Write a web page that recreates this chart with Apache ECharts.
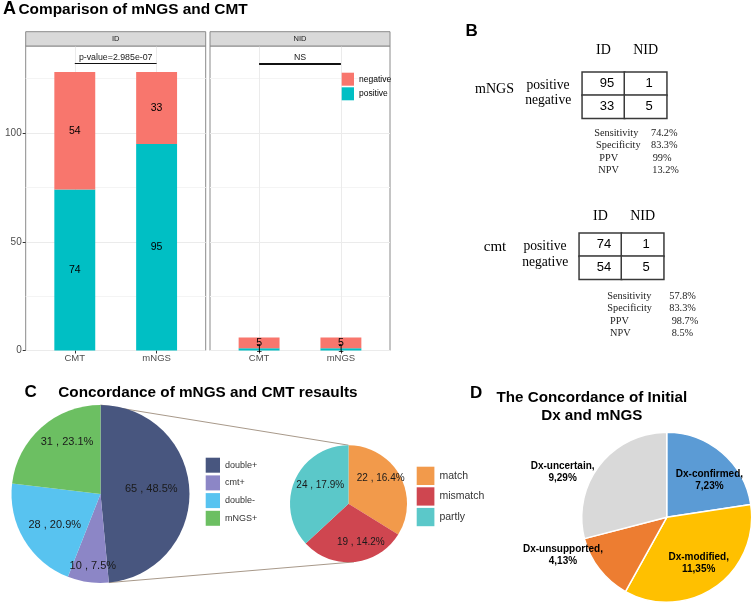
<!DOCTYPE html>
<html><head><meta charset="utf-8">
<script src="https://cdn.jsdelivr.net/npm/echarts@6/dist/echarts.min.js"></script>
<style>html,body{margin:0;padding:0;background:#fff}#c{width:753px;height:605px}</style>
</head><body><div id="c"></div>
<script>
// ---------- DATA ----------
// Panel A
const barCategories = ['CMT', 'mNGS'];
const facetNames = ['ID', 'NID'];
const idPositive = [74, 95];
const idNegative = [54, 33];
const nidPositive = [1, 1];
const nidNegative = [5, 5];
const sigLabels = ['p-value=2.985e-07', 'NS'];
const yTicksA = [0, 50, 100];
const stackNames = ['negative', 'positive'];

// Panel B
const tableCols = ['ID', 'NID'];
const tableRows = ['positive', 'negative'];
const mngsTable = [[95, 1], [33, 5]];
const cmtTable = [[74, 1], [54, 5]];
const statNames = ['Sensitivity', 'Specificity', 'PPV', 'NPV'];
const mngsStats = ['74.2%', '83.3%', '99%', '13.2%'];
const cmtStats = ['57.8%', '83.3%', '98.7%', '8.5%'];

// Panel C
const concordNames = ['double+', 'cmt+', 'double-', 'mNGS+'];
const concordValues = [65, 10, 28, 31];
const concordPct = ['48.5%', '7.5%', '20.9%', '23.1%'];
const detailNames = ['match', 'mismatch', 'partly'];
const detailValues = [22, 19, 24];
const detailPct = ['16.4%', '14.2%', '17.9%'];

// Panel D
const dxNames = ['Dx-confirmed', 'Dx-modified', 'Dx-unsupported', 'Dx-uncertain'];
const dxValues = [7, 11, 4, 9];
const dxPct = ['23%', '35%', '13%', '29%'];

// ---------- STYLE / LAYOUT ----------
const SANS = 'Liberation Sans, Arial, sans-serif';
const SERIF = 'Liberation Serif, Times New Roman, serif';
const colNeg = '#F8766D', colPos = '#00BFC4';
const concordColors = ['#48567F', '#8C86C6', '#58C3F0', '#6CBF62'];
const detailColors = ['#F29A4B', '#CF4650', '#5BC8C9'];
const dxColors = ['#5B9BD5', '#FFC000', '#ED7D31', '#D9D9D9'];
const borderGrey = '#8a8a8a';

const panelA = [{left: 25.7, top: 46, width: 180, height: 304.5}, {left: 210, top: 46, width: 180, height: 304.5}];
const xExpand = 0.6;           // discrete-axis expansion, in category units
const stripH = 14.3;
const yMaxA = 140;
const tblGrids = [{left: 582.3, top: 72.3, width: 84.4, height: 46}, {left: 579.3, top: 233.3, width: 84.4, height: 46}];
const bigPie = {cx: 100.5, cy: 494, r: 89};
const smallPie = {cx: 348.5, cy: 503.7, r: 58.5};
const dPie = {cx: 666.7, cy: 517.3, r: 85};
const bigOff = [[3.3, -2.6], [-1, 25.2], [-5, 6.5], [-1.9, -16.7]];
const smallOff = [[4, -10.2], [9.2, 6.2], [1.3, -5.3]];
const dOff = [[13.1, -2.6], [6, 8.8], [-67.8, 10], [-68.1, -16.8]];

// ---------- BUILD ----------
const totals = idPositive.map((v, i) => v + idNegative[i]);
const sigY = Math.max(...totals) + 4;
function tableData(tbl) { const d = []; tbl.forEach((row, r) => row.forEach((v, c) => d.push([c, r, v]))); return d; }

const graphics = [];
function txt(t, x, y, o) {
  graphics.push({type: 'text', silent: true, z: 10, style: Object.assign({
    text: t, x: x, y: y, fill: '#000', fontFamily: SANS, fontSize: 12,
    align: 'left', verticalAlign: 'middle', textAlign: 'left', textVerticalAlign: 'middle'}, o)});
}
txt('A', 3, 9.5, {fontSize: 18, fontWeight: 'bold'});
txt('Comparison of mNGS and CMT', 18.5, 9.5, {fontSize: 15.4, fontWeight: 'bold'});
txt('B', 465.5, 31, {fontSize: 17, fontWeight: 'bold'});
txt('C', 24.5, 392.7, {fontSize: 17, fontWeight: 'bold'});
txt('Concordance of mNGS and CMT resaults', 58.3, 392.7, {fontSize: 15.3, fontWeight: 'bold'});
txt('D', 470, 393, {fontSize: 17, fontWeight: 'bold'});
txt('The Concordance of Initial', 591.8, 398.3, {fontSize: 15.2, fontWeight: 'bold', align: 'center', textAlign: 'center'});
txt('Dx and mNGS', 591.8, 415.5, {fontSize: 15.2, fontWeight: 'bold', align: 'center', textAlign: 'center'});

panelA.forEach((p, i) => {
  graphics.push({type: 'rect', silent: true, z: 5, shape: {x: p.left, y: p.top - stripH, width: p.width, height: stripH},
    style: {fill: '#D9D9D9', stroke: borderGrey, lineWidth: 1}});
  txt(facetNames[i], p.left + p.width / 2, p.top - stripH / 2, {fontSize: 7.5, fill: '#1a1a1a', align: 'center', textAlign: 'center'});
});

txt('mNGS', 494.5, 89, {fontFamily: SERIF, fontSize: 14, align: 'center', textAlign: 'center'});
txt(tableRows[0], 548, 85, {fontFamily: SERIF, fontSize: 13.6, align: 'center', textAlign: 'center'});
txt(tableRows[1], 548.2, 100, {fontFamily: SERIF, fontSize: 13.6, align: 'center', textAlign: 'center'});
txt('cmt', 495, 247.3, {fontFamily: SERIF, fontSize: 15, align: 'center', textAlign: 'center'});
txt(tableRows[0], 545, 246.7, {fontFamily: SERIF, fontSize: 13.6, align: 'center', textAlign: 'center'});
txt(tableRows[1], 545.2, 262.7, {fontFamily: SERIF, fontSize: 13.6, align: 'center', textAlign: 'center'});

const stat1 = {nameX: [594.3, 596, 599.3, 598.3], valX: [651, 651, 652.7, 652.3], y0: 133.3, dy: 12.45};
const stat2 = {nameX: [607.3, 607.3, 610, 610], valX: [669.3, 669.3, 671.7, 671.7], y0: 296, dy: 12.45};
[[stat1, mngsStats], [stat2, cmtStats]].forEach(([s, vals]) => {
  statNames.forEach((n, i) => {
    txt(n, s.nameX[i], s.y0 + i * s.dy, {fontFamily: SERIF, fontSize: 10.3, fill: '#222'});
    txt(vals[i], s.valX[i], s.y0 + i * s.dy, {fontFamily: SERIF, fontSize: 10.3, fill: '#222'});
  });
});

function pt(c, a) { return [c.cx + c.r * Math.sin(a), c.cy - c.r * Math.cos(a)]; }
const sumC = concordValues.reduce((a, b) => a + b, 0);
const aEnd = 2 * Math.PI * concordValues[0] / sumC;
[0, aEnd].forEach(a => {
  const p1 = pt(bigPie, a), p2 = pt(smallPie, a);
  graphics.push({type: 'line', silent: true, z: 0, shape: {x1: p1[0], y1: p1[1], x2: p2[0], y2: p2[1]},
    style: {stroke: '#A8998A', lineWidth: 1}});
});

// ---------- GRIDS & AXES ----------
const grids = [], xAxes = [], yAxes = [];
const nCat = barCategories.length;
panelA.forEach((p, i) => {
  grids.push(Object.assign({show: true, borderColor: borderGrey, borderWidth: 1, backgroundColor: '#fff', outerBoundsMode: 'none', containLabel: false}, p));
});
panelA.forEach((p, i) => {
  const unit = p.width / (nCat - 1 + 2 * xExpand);
  const pad = (xExpand - 0.5) * unit;
  grids.push({show: false, left: p.left + pad, top: p.top, width: p.width - 2 * pad, height: p.height, outerBoundsMode: 'none', containLabel: false});
});
tblGrids.forEach(g => grids.push(Object.assign({show: false, outerBoundsMode: 'none', containLabel: false}, g)));

[0, 1].forEach(i => xAxes.push({gridIndex: i, type: 'value', min: 1 - xExpand, max: nCat + xExpand, splitNumber: 2, minInterval: 1, maxInterval: 1,
  axisLine: {show: false}, axisTick: {show: false}, axisLabel: {show: false},
  splitLine: {show: true, showMinLine: false, showMaxLine: false, lineStyle: {color: '#EBEBEB', width: 1}}}));
[0, 1].forEach(i => xAxes.push({gridIndex: 2 + i, type: 'category', data: barCategories,
  axisLine: {show: false}, splitLine: {show: false},
  axisTick: {show: true, alignWithLabel: true, length: 3, lineStyle: {color: '#333'}},
  axisLabel: {margin: 2.5, color: '#4D4D4D', fontSize: 9.5, fontFamily: SANS}}));
const headerMargins = [15, 10];
[0, 1].forEach(i => xAxes.push({gridIndex: 4 + i, type: 'category', data: tableCols, position: 'top',
  axisLine: {show: false}, axisTick: {show: false}, splitLine: {show: false},
  axisLabel: {fontFamily: SERIF, fontSize: 14, color: '#000', margin: headerMargins[i]}}));

[0, 1].forEach(i => yAxes.push({gridIndex: i, type: 'value', min: 0, max: yMaxA, interval: 25,
  axisLine: {show: false}, axisTick: {show: false}, axisLabel: {show: false},
  splitLine: {show: true, showMaxLine: false, lineStyle: {color: ['#EBEBEB', '#F4F4F4'], width: 1}}}));
yAxes.push({gridIndex: 0, type: 'value', min: 0, max: yMaxA, position: 'left',
  axisLine: {show: false}, splitLine: {show: false},
  axisTick: {show: true, length: 3, customValues: yTicksA, lineStyle: {color: '#333'}},
  axisLabel: {show: true, customValues: yTicksA, margin: 4, color: '#4D4D4D', fontSize: 10, fontFamily: SANS}});
[0, 1].forEach(i => yAxes.push({gridIndex: 2 + i, type: 'value', min: 0, max: yMaxA, show: false}));
[0, 1].forEach(i => yAxes.push({gridIndex: 4 + i, type: 'category', data: tableRows, inverse: true,
  axisLine: {show: false}, axisTick: {show: false}, splitLine: {show: false}, axisLabel: {show: false}}));

// ---------- SERIES ----------
const series = [];
const panelData = [[idPositive, idNegative], [nidPositive, nidNegative]];
panelData.forEach(([pos, neg], i) => {
  const lbl = {show: true, position: 'inside', color: '#000', fontSize: 10.5, fontFamily: SANS};
  series.push({type: 'bar', name: 'positive', xAxisIndex: 2 + i, yAxisIndex: 3 + i, stack: 's' + i, barWidth: '50%',
    data: pos, itemStyle: {color: colPos}, label: lbl, emphasis: {disabled: true}});
  series.push({type: 'bar', name: 'negative', xAxisIndex: 2 + i, yAxisIndex: 3 + i, stack: 's' + i, barWidth: '50%',
    data: neg, itemStyle: {color: colNeg}, label: lbl, emphasis: {disabled: true},
    markLine: {silent: true, symbol: ['none', 'none'], animation: false,
      lineStyle: {color: '#111', width: i === 0 ? 1.2 : 1.8, type: 'solid'},
      label: {show: true, position: 'middle', distance: 1, formatter: sigLabels[i], color: '#1a1a1a', fontSize: 8.8, fontFamily: SANS,
        backgroundColor: 'transparent', borderWidth: 0, padding: 0, textBorderWidth: 0},
      data: [[{coord: [barCategories[0], sigY]}, {coord: [barCategories[1], sigY]}]]}});
});
[mngsTable, cmtTable].forEach((t, i) => {
  series.push({type: 'heatmap', xAxisIndex: 4 + i, yAxisIndex: 5 + i, data: tableData(t),
    itemStyle: {color: '#fff', borderColor: '#3a3a3a', borderWidth: 1.5},
    label: {show: true, formatter: p => String(p.value[2]), fontSize: 13, color: '#000', fontFamily: SANS, offset: [3.5, 0]},
    emphasis: {disabled: true}});
});
function pieSeries(c, names, values, colors, fmt, off, lblStyle, itemStyle) {
  return {type: 'pie', center: [c.cx, c.cy], radius: [0, c.r], startAngle: 90, clockwise: true,
    avoidLabelOverlap: false, emphasis: {disabled: true}, labelLine: {show: false},
    itemStyle: itemStyle,
    data: names.map((n, i) => ({name: n, value: values[i], itemStyle: {color: colors[i]}})),
    label: Object.assign({show: true, position: 'inside', formatter: fmt, fontFamily: SANS}, lblStyle),
    labelLayout: p => ({dx: off[p.dataIndex][0], dy: off[p.dataIndex][1]})};
}
series.push(pieSeries(bigPie, concordNames, concordValues, concordColors,
  p => p.value + ' , ' + concordPct[p.dataIndex], bigOff, {fontSize: 11, color: '#1a1a1a'}, {borderWidth: 0}));
series.push(pieSeries(smallPie, detailNames, detailValues, detailColors,
  p => p.value + ' , ' + detailPct[p.dataIndex], smallOff, {fontSize: 10, color: '#1a1a1a'}, {borderWidth: 0}));
series.push(pieSeries(dPie, dxNames, dxValues, dxColors,
  p => p.name + ',\n' + p.value + ',' + dxPct[p.dataIndex], dOff,
  {fontSize: 10, fontWeight: 'bold', color: '#000', lineHeight: 12, align: 'center'}, {borderWidth: 1.5, borderColor: '#fff'}));

// ---------- LEGENDS ----------
const legends = [
  {data: stackNames, orient: 'vertical', left: 341.7, top: 72.7, itemWidth: 12.3, itemHeight: 13, itemGap: 1.6,
    icon: 'rect', padding: 0, selectedMode: false, textStyle: {fontSize: 8.5, color: '#000', fontFamily: SANS}},
  {data: concordNames, orient: 'vertical', left: 205.7, top: 457.7, itemWidth: 14.3, itemHeight: 15, itemGap: 2.7,
    icon: 'rect', padding: 0, selectedMode: false, textStyle: {fontSize: 9, color: '#333', fontFamily: SANS}},
  {data: detailNames, orient: 'vertical', left: 416.7, top: 466.7, itemWidth: 17.7, itemHeight: 18.3, itemGap: 2.3,
    icon: 'rect', padding: 0, selectedMode: false, textStyle: {fontSize: 10.5, color: '#333', fontFamily: SANS}}
];

const chart = echarts.init(document.getElementById('c'), null, {renderer: 'canvas', width: 753, height: 605});
chart.setOption({
  animation: false,
  backgroundColor: '#fff',
  grid: grids, xAxis: xAxes, yAxis: yAxes,
  legend: legends,
  series: series,
  graphic: {elements: graphics}
});
</script>
</body></html>
